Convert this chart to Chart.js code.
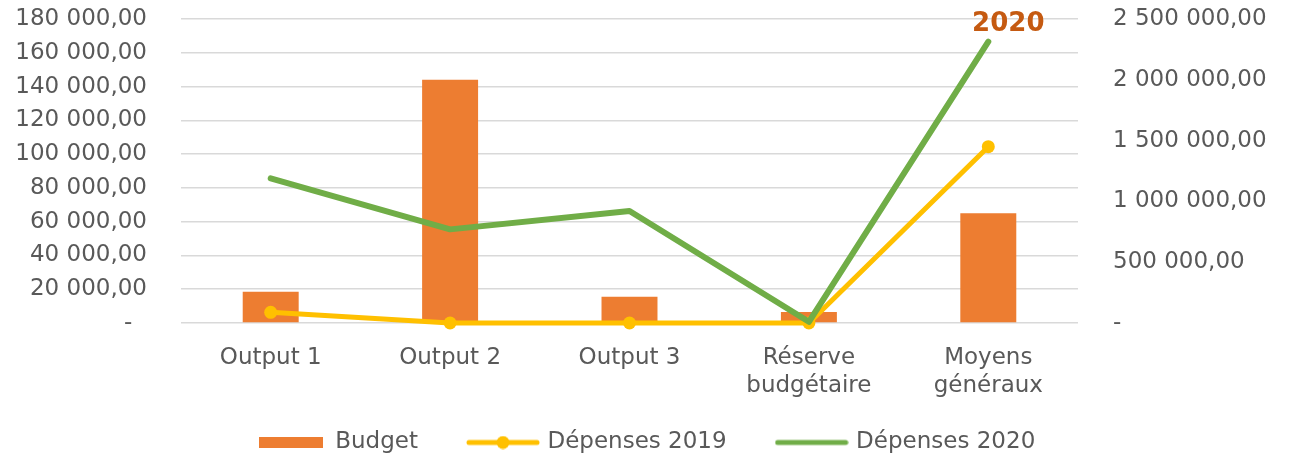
<!DOCTYPE html>
<html>
<head>
<meta charset="utf-8">
<script src="https://cdn.jsdelivr.net/npm/chart.js@4"></script>
<style>
  html, body { margin: 0; padding: 0; background: #fff; }
  #wrap { width: 1293px; height: 459px; }
</style>
</head>
<body>
<div id="wrap"><canvas id="chart"></canvas></div>
<script>
const categories = ["Output 1", "Output 2", "Output 3", ["Réserve", "budgétaire"], ["Moyens", "généraux"]];
const budget = [18500, 144000, 15500, 6500, 65000];
const depenses2019 = [88000, 0, 0, 0, 1450000];
const depenses2020 = [1190000, 770000, 921000, 10000, 2313000];
const leftTicks = [0, 20000, 40000, 60000, 80000, 100000, 120000, 140000, 160000, 180000];
const rightTicks = [0, 500000, 1000000, 1500000, 2000000, 2500000];
const seriesNames = ["Budget", "Dépenses 2019", "Dépenses 2020"];
const peakLabel = "2020";

const ORANGE = "#ED7D31";
const YELLOW = "#FFC000";
const GREEN = "#70AD47";
const TEXT = "#595959";
const FONT = "'DejaVu Sans', sans-serif";

function fmt(v) {
  return String(v).replace(/\B(?=(\d{3})+(?!\d))/g, " ") + ",00";
}

// little canvases used as legend symbols
function legendSymbol(kind, color) {
  const c = document.createElement("canvas");
  const g = c.getContext("2d");
  if (kind === "rect") {
    c.width = 64; c.height = 11;
    g.fillStyle = color;
    g.fillRect(0, 0, 64, 11);
  } else {
    c.width = 74; c.height = 14;
    g.strokeStyle = color;
    g.lineWidth = 5;
    g.lineCap = "round";
    g.beginPath(); g.moveTo(3, 7); g.lineTo(71, 7); g.stroke();
    if (kind === "marker") {
      g.fillStyle = color;
      g.beginPath(); g.arc(37, 7, 6.5, 0, Math.PI * 2); g.fill();
    }
  }
  return c;
}
const symbols = [legendSymbol("rect", ORANGE), legendSymbol("marker", YELLOW), legendSymbol("line", GREEN)];

const peakLabelPlugin = {
  id: "peakLabel",
  afterLayout(chart) {
    // legend padding is vertical too; pull the legend back up under the labels
    if (chart.legend) chart.legend.top = 379;
  },
  afterDatasetsDraw(chart) {
    const meta = chart.getDatasetMeta(2);
    const pt = meta.data[meta.data.length - 1];
    if (!pt) return;
    const ctx = chart.ctx;
    ctx.save();
    ctx.font = "bold 26px " + FONT;
    ctx.fillStyle = "#C55A11";
    ctx.textAlign = "center";
    ctx.textBaseline = "middle";
    ctx.fillText(peakLabel, pt.x + 20, pt.y - 17);
    ctx.restore();
  }
};

// tick padding also pads the axis vertically, undo that
function fixYAxis(width) {
  return scale => {
    scale.width = width;
    scale.paddingTop = 12;
    scale.paddingBottom = 12;
  };
}

new Chart(document.getElementById("chart"), {
  data: {
    labels: categories,
    datasets: [
      {
        type: "bar",
        label: seriesNames[0],
        data: budget,
        backgroundColor: ORANGE,
        yAxisID: "y",
        barPercentage: 0.312,
        categoryPercentage: 1,
        order: 2
      },
      {
        type: "line",
        label: seriesNames[1],
        data: depenses2019,
        borderColor: YELLOW,
        backgroundColor: YELLOW,
        borderWidth: 5,
        pointRadius: 6.5,
        pointBorderWidth: 0,
        pointBackgroundColor: YELLOW,
        borderCapStyle: "round",
        borderJoinStyle: "round",
        yAxisID: "y1",
        clip: false,
        order: 1
      },
      {
        type: "line",
        label: seriesNames[2],
        data: depenses2020,
        borderColor: GREEN,
        backgroundColor: GREEN,
        borderWidth: 6,
        pointRadius: 0,
        borderCapStyle: "round",
        borderJoinStyle: "round",
        yAxisID: "y1",
        clip: false,
        order: 0
      }
    ]
  },
  options: {
    responsive: true,
    maintainAspectRatio: false,
    animation: false,
    layout: { padding: { top: 19, left: 0, right: 0, bottom: 0 } },
    plugins: {
      tooltip: { enabled: false },
      legend: {
        position: "bottom",
        maxHeight: 34,
        labels: {
          usePointStyle: true,
          pointStyleWidth: 66,
          padding: 52,
          color: TEXT,
          font: { family: FONT, size: 23 },
          sort: (a, b) => a.datasetIndex - b.datasetIndex,
          generateLabels(chart) {
            const items = Chart.defaults.plugins.legend.labels.generateLabels(chart);
            items.forEach(it => { it.pointStyle = symbols[it.datasetIndex]; });
            return items;
          }
        }
      }
    },
    scales: {
      x: {
        grid: { display: false, drawTicks: false },
        border: { display: false },
        ticks: {
          color: TEXT,
          padding: 21,
          maxRotation: 0,
          autoSkip: false,
          font: { family: FONT, size: 23, lineHeight: 1.22 }
        },
        afterFit(scale) { scale.height = 102; }
      },
      y: {
        position: "left",
        min: leftTicks[0],
        max: leftTicks[leftTicks.length - 1],
        grid: { color: "#D9D9D9", lineWidth: 1.5, drawTicks: false },
        border: { display: false },
        ticks: {
          stepSize: leftTicks[1] - leftTicks[0],
          color: TEXT,
          padding: 34,
          font: { family: FONT, size: 23 },
          callback: v => (v === 0 ? "-  " : fmt(v))
        },
        afterFit: fixYAxis(181)
      },
      y1: {
        position: "right",
        min: rightTicks[0],
        max: rightTicks[rightTicks.length - 1],
        grid: { display: false, drawTicks: false },
        border: { display: false },
        ticks: {
          stepSize: rightTicks[1] - rightTicks[0],
          color: TEXT,
          padding: 35,
          font: { family: FONT, size: 23 },
          callback: v => (v === 0 ? "-" : fmt(v))
        },
        afterFit: fixYAxis(215)
      }
    }
  },
  plugins: [peakLabelPlugin]
});
</script>
</body>
</html>
